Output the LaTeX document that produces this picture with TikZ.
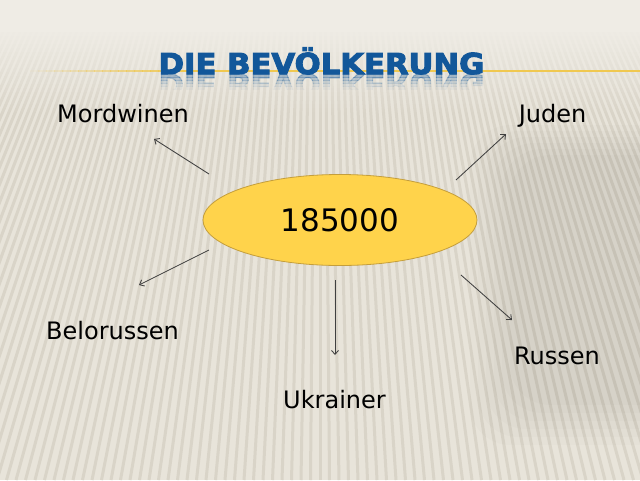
\documentclass[tikz,border=0pt]{standalone}
\usepackage{fontspec}
\setmainfont{DejaVu Sans}
\newfontfamily\titlefont{DejaVu Sans Bold}[FakeBold=3.5]
\usetikzlibrary{arrows.meta,shapes.geometric}
\definecolor{bgbase}{HTML}{E8E4DA}
\definecolor{bgtop}{HTML}{EFECE5}
\definecolor{stripe}{HTML}{D9D4C8}
\definecolor{titleblue}{HTML}{12579A}
\definecolor{ellfill}{HTML}{FFD34B}
\definecolor{elldraw}{HTML}{C49E3C}
\definecolor{goldline}{HTML}{F0C850}
\begin{document}
\begin{tikzpicture}[x=1pt,y=-1pt,
  lbl/.style={font=\fontsize{24}{28}\selectfont, text=black, inner sep=0pt, anchor=base},
  titlestyle/.style={font=\titlefont\fontsize{28.8}{30}\selectfont, text=titleblue, xscale=1.065, anchor=base, inner sep=0pt},
  arr/.style={draw=black!75, line width=0.85pt, -{Straight Barb[length=4pt,width=7pt]}}]
\useasboundingbox (0,0) rectangle (640,480);
% background
\fill[bgbase] (0,0) rectangle (640,480);
\begin{scope}
  \clip (0,0) rectangle (640,480);
  \foreach \i in {-70,...,70} {
    \draw[stripe, line width=3pt] ({320+\i*5.6},25) -- ({320+\i*9.5},480);
  }
  \foreach \k in {0,...,5} {
    \fill[black, opacity=0.012, rounded corners=40pt]
      ({470+\k*8},{125+\k*6}) rectangle (700,{445-\k*8});
  }
\end{scope}
\fill[bgtop] (0,0) rectangle (640,28);
\foreach \k in {0,...,20} {
  \fill[bgtop, opacity={1-\k/21}] (0,{28+\k*4}) rectangle (640,{32+\k*4});
}
% gold line
\foreach \k in {0,...,19} {
  \fill[goldline, opacity={(\k+1)/20}] ({30+\k*8},70.3) rectangle ({38.5+\k*8},71.7);
}
\fill[goldline] (190,70.3) rectangle (640,71.7);
% title and reflection
\node[titlestyle] (title) at (321.5,74) {DIE BEVÖLKERUNG};
\foreach \a/\yy in {0.32/74,0.22/77,0.14/80,0.07/83,0.03/86} {
  \begin{scope}
    \clip (0,\yy) rectangle (640,\yy+3);
    \node[titlestyle, yscale=-1, opacity=\a] at (321.5,74) {DIE BEVÖLKERUNG};
  \end{scope}
}
% central ellipse
\node[ellipse, fill=ellfill, draw=elldraw, line width=0.8pt, minimum width=274pt, minimum height=91pt, inner sep=0pt,
      font=\fontsize{31}{34}\selectfont] (e) at (340,220) {185000};
% labels
\node[lbl] (mord) at (123,122) {Mordwinen};
\node[lbl] (jud) at (552.5,122.5) {Juden};
\node[lbl] (belo) at (112.5,339) {Belorussen};
\node[lbl] (russ) at (557,364) {Russen};
\node[lbl] (ukr) at (334.5,408) {Ukrainer};
% arrow coordinates
\coordinate (mordS) at (209,174); \coordinate (mordE) at (154,139);
\coordinate (judS) at (456,180);  \coordinate (judE) at (506,134);
\coordinate (beloS) at (209,250); \coordinate (beloE) at (139,285);
\coordinate (ukrS) at (335,280);  \coordinate (ukrE) at (335,355);
\coordinate (russS) at (461,275); \coordinate (russE) at (512,320);
\draw[arr] (mordS) -- (mordE);
\draw[arr] (judS) -- (judE);
\draw[arr] (beloS) -- (beloE);
\draw[arr] (ukrS) -- (ukrE);
\draw[arr] (russS) -- (russE);
\end{tikzpicture}
\end{document}
